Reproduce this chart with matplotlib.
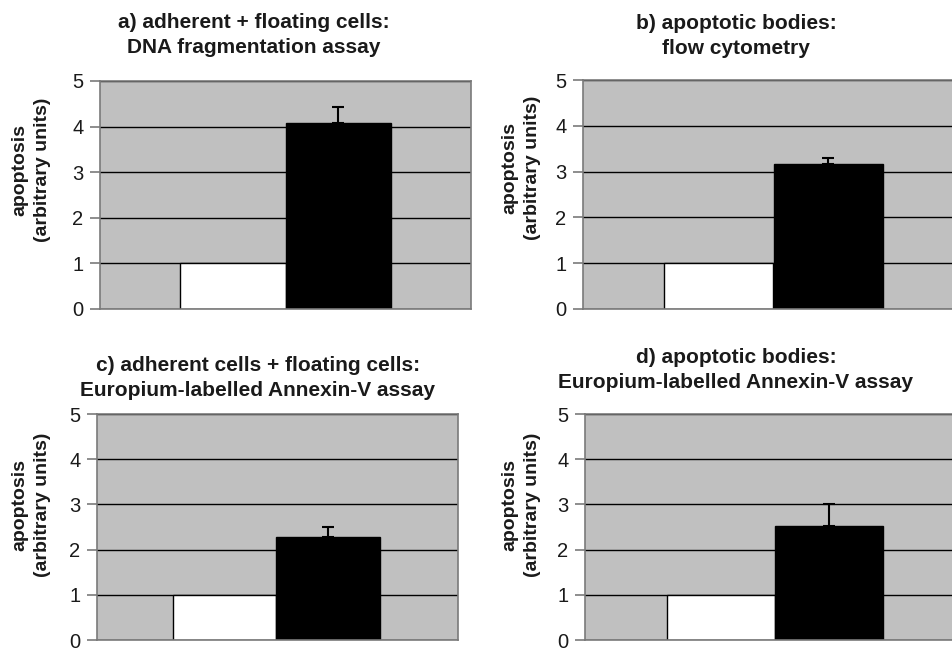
import matplotlib
matplotlib.use("Agg")
import matplotlib.pyplot as plt

plt.rcParams['font.family'] = ['Liberation Sans', 'DejaVu Sans']

# panel titles and data (white = control, black = treated)
titles = [
    "a) adherent + floating cells:\nDNA fragmentation assay",
    "b) apoptotic bodies:\nflow cytometry",
    "c) adherent cells + floating cells:\nEuropium-labelled Annexin-V assay",
    "d) apoptotic bodies:\nEuropium-labelled Annexin-V assay",
]
control = [1.0, 1.0, 1.0, 1.0]
treated = [4.07, 3.17, 2.27, 2.53]
treated_err = [0.37, 0.13, 0.23, 0.47]
yticks = [0, 1, 2, 3, 4, 5]
ylabel = "apoptosis\n(arbitrary units)"

W, H = 952, 653
fig = plt.figure(figsize=(W / 100, H / 100), dpi=100)

# axes boxes in pixels: left, top, right, bottom
boxes = [(100, 81, 471, 309), (583, 80, 964, 309),
         (97, 414, 458, 640), (585, 414, 965, 640)]
# bar x-limits per panel (two bars of width 1 at 0 and 1)
xlims = [(-1.26, 2.26), (-1.24, 2.24), (-1.24, 2.26), (-1.26, 2.26)]
title_pos = [(254, 35), (736, 36), (258, 378), (736, 370)]
ylab_pos = [(31, 170), (521, 168), (31, 505), (521, 505)]

grey_bg = '#c0c0c0'
spine_c = '#7a7a7a'

for i in range(4):
    l, t, r, b = boxes[i]
    ax = fig.add_axes([l / W, 1 - b / H, (r - l) / W, (b - t) / H])
    ax.set_facecolor(grey_bg)
    ax.bar([0], [control[i]], width=1.0, color='white', edgecolor='black', linewidth=1.0, zorder=2)
    ax.bar([1], [treated[i]], width=1.0, color='black', edgecolor='black', linewidth=1.0, zorder=2)
    ax.errorbar([1], [treated[i]], yerr=[[0], [treated_err[i]]], fmt='none',
                ecolor='black', elinewidth=1.5, capsize=4.5, capthick=1.5, zorder=3)
    ax.set_ylim(0, 5)
    ax.set_xlim(*xlims[i])
    ax.set_yticks(yticks)
    ax.set_xticks([])
    ax.yaxis.grid(True, color='black', linewidth=1.0)
    ax.set_axisbelow(True)
    for s in ax.spines.values():
        s.set_color(spine_c)
        s.set_linewidth(1.2)
    ax.tick_params(axis='y', length=7, width=1.2, color=spine_c, pad=5,
                   labelsize=14.5, labelcolor='#1a1a1a')
    fig.text(title_pos[i][0] / W, 1 - title_pos[i][1] / H, titles[i],
             ha='center', va='center', fontsize=15, fontweight='bold',
             color='#1a1a1a', linespacing=1.4)
    fig.text(ylab_pos[i][0] / W, 1 - ylab_pos[i][1] / H, ylabel,
             ha='center', va='center', rotation=90, fontsize=14,
             fontweight='bold', color='#1a1a1a', linespacing=1.4)

fig.savefig('out.png', dpi=100)
